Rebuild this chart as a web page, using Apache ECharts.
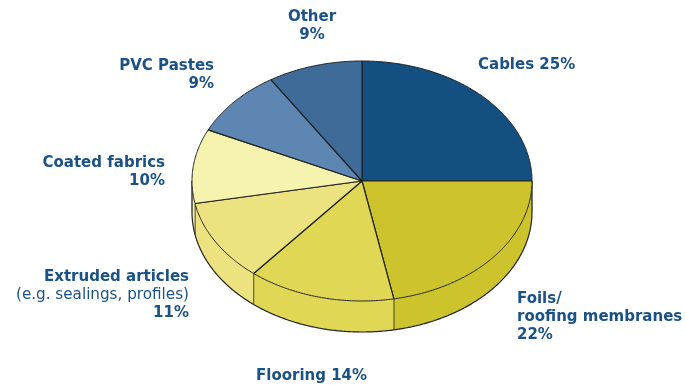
<!DOCTYPE html>
<html>
<head>
<meta charset="utf-8">
<style>html,body{margin:0;padding:0;background:#fff}#chart{width:685px;height:385px}</style>
<script src="https://cdn.jsdelivr.net/npm/echarts@6/dist/echarts.min.js"></script>
</head>
<body>
<div id="chart"></div>
<script>
// PVC applications, share of consumption in percent, clockwise from twelve o'clock
const categories = ['Cables', 'Foils/roofing membranes', 'Flooring', 'Extruded articles', 'Coated fabrics', 'PVC Pastes', 'Other'];
const shares = [25, 22, 14, 11, 10, 9, 9];
const sliceColors = ['#134f80', '#cdc32c', '#e0d755', '#ece27f', '#f5f3ae', '#5e86b2', '#3f6b98'];

// Label wording: one string per text line, {p} stands for the share
const labelLines = [
  ['{b|Cables {p}%}'],
  ['{b|Foils/}', '{b|roofing membranes}', '{b|{p}%}'],
  ['{b|Flooring {p}%}'],
  ['{b|Extruded articles}', '{r|(e.g. sealings, profiles)}', '{b|{p}%}'],
  ['{b|Coated fabrics}', '{b|{p}%}'],
  ['{b|PVC Pastes}', '{b|{p}%}'],
  ['{b|Other}', '{b|{p}%}']
];
// Label anchors in pixels with their alignment
const labelAnchors = [
  { x: 478, y: 65, align: 'left' },
  { x: 517, y: 317, align: 'left' },
  { x: 256, y: 376, align: 'left' },
  { x: 189, y: 295, align: 'right' },
  { x: 165, y: 172, align: 'right' },
  { x: 214, y: 75, align: 'right' },
  { x: 312, y: 26, align: 'center' }
];

// Tilted disc geometry
const disc = { cx: 362, cy: 181, rx: 170, ry: 120, depth: 31 };
const TEXT_COLOR = '#1a5286';
const EDGE_COLOR = '#222222';

const total = shares.reduce((a, b) => a + b, 0);

function rim(t, drop) {
  return [disc.cx + disc.rx * Math.sin(t), disc.cy - disc.ry * Math.cos(t) + drop];
}
function arc(t0, t1, drop) {
  const n = Math.max(2, Math.ceil(Math.abs(t1 - t0) / 0.01));
  const pts = [];
  for (let i = 0; i <= n; i++) pts.push(rim(t0 + (t1 - t0) * i / n, drop));
  return pts;
}
function wallEdge(t, stroke, width) {
  const top = rim(t, 0);
  const bottom = rim(t, disc.depth);
  return {
    type: 'line',
    shape: { x1: top[0], y1: top[1], x2: bottom[0], y2: bottom[1] },
    style: { stroke: stroke, lineWidth: width }
  };
}

function renderSlice(params, api) {
  const i = params.dataIndex;
  const before = shares.slice(0, i).reduce((a, b) => a + b, 0);
  const t0 = before / total * 2 * Math.PI;
  const t1 = (before + api.value(0)) / total * 2 * Math.PI;
  const children = [];
  const FRONT_START = Math.PI / 2;
  const FRONT_END = Math.PI * 3 / 2;

  // Wall: only the part of the rim that faces the viewer
  const a = Math.max(t0, FRONT_START);
  const b = Math.min(t1, FRONT_END);
  if (b > a) {
    const lower = arc(a, b, disc.depth);
    children.push({
      type: 'polygon',
      shape: { points: arc(a, b, 0).concat(lower.slice().reverse()) },
      style: { fill: sliceColors[i], stroke: 'none' }
    });
    children.push({
      type: 'polyline',
      shape: { points: lower },
      style: { fill: 'none', stroke: EDGE_COLOR, lineWidth: 1.2 }
    });
    if (a === FRONT_START || b === FRONT_END) {
      // Silhouette of the disc on either side
      children.push(wallEdge(a === FRONT_START ? a : b, EDGE_COLOR, 1.3));
    }
    if (a > FRONT_START) children.push(wallEdge(a, 'rgba(40,40,40,0.65)', 1));
    if (b < FRONT_END) children.push(wallEdge(b, 'rgba(40,40,40,0.65)', 1));
  }

  // Top face: fill, outer rim, then the two radial edges
  const outer = arc(t0, t1, 0);
  children.push({
    type: 'polygon',
    shape: { points: [[disc.cx, disc.cy]].concat(outer) },
    style: { fill: sliceColors[i], stroke: 'none' }
  });
  children.push({
    type: 'polyline',
    shape: { points: outer },
    style: { fill: 'none', stroke: EDGE_COLOR, lineWidth: 1 }
  });
  children.push({
    type: 'polyline',
    shape: { points: [outer[0], [disc.cx, disc.cy], outer[outer.length - 1]] },
    style: { fill: 'none', stroke: EDGE_COLOR, lineWidth: 1.2, lineJoin: 'round' }
  });
  return { type: 'group', children: children };
}

function renderLabel(params) {
  const i = params.dataIndex;
  const anchor = labelAnchors[i];
  const font = 'DejaVu Sans';
  return {
    type: 'text',
    x: anchor.x,
    y: anchor.y,
    style: {
      text: labelLines[i].map(l => l.replace('{p}', shares[i])).join('\n'),
      align: anchor.align,
      verticalAlign: 'middle',
      rich: {
        b: { fontFamily: font, fontSize: 15, fontWeight: 'bold', fill: TEXT_COLOR, lineHeight: 18, align: anchor.align },
        r: { fontFamily: font, fontSize: 15.2, fill: TEXT_COLOR, lineHeight: 18, align: anchor.align }
      }
    }
  };
}

const chart = echarts.init(document.getElementById('chart'), null, { renderer: 'canvas' });
chart.setOption({
  animation: false,
  backgroundColor: '#ffffff',
  series: [
    {
      type: 'custom',
      name: 'Share',
      coordinateSystem: 'none',
      data: shares.map((v, i) => ({ name: categories[i], value: [v] })),
      renderItem: renderSlice,
      silent: true
    },
    {
      type: 'custom',
      name: 'Labels',
      coordinateSystem: 'none',
      data: shares.map((v, i) => ({ name: categories[i], value: [v] })),
      renderItem: renderLabel,
      silent: true
    }
  ]
});
</script>
</body>
</html>
